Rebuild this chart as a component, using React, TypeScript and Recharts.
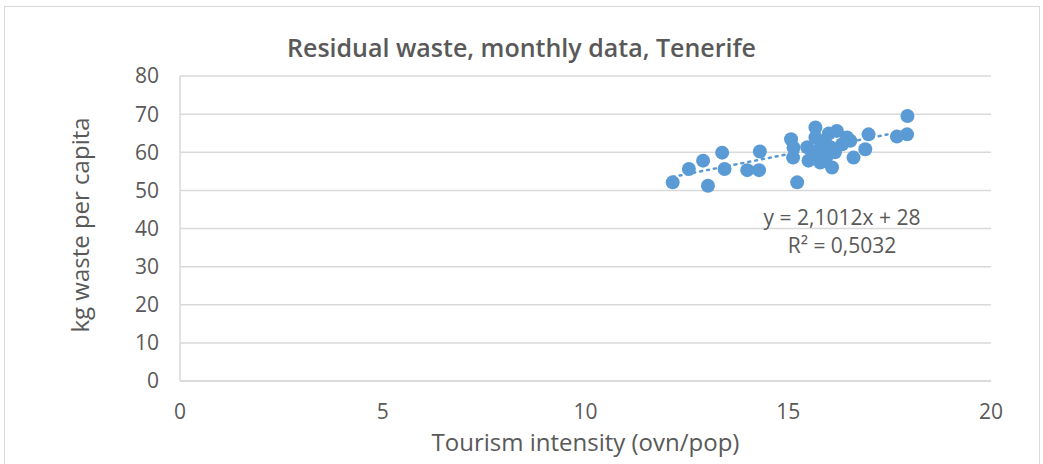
import React from 'react';
import {
  ScatterChart,
  Scatter,
  XAxis,
  YAxis,
  CartesianGrid,
  ReferenceLine,
} from 'recharts';

const tourismIntensity = [
  12.15, 12.55, 12.9, 13.02, 13.37, 13.43, 13.99, 14.28, 14.3, 15.22,
  15.07, 15.12, 15.13, 15.67, 15.67, 15.71, 15.79, 15.96, 16.08, 16.2,
  16.45, 16.33, 16.04, 15.87, 15.47, 15.5, 16.61, 16.9, 16.98, 17.68,
  17.93, 17.94, 16.53, 16.0, 15.85, 15.6, 16.15, 15.9,
];
const wastePerCapita = [
  52.1, 55.6, 57.8, 51.2, 59.9, 55.6, 55.3, 55.3, 60.2, 52.1,
  63.4, 58.6, 61.2, 66.5, 63.9, 60.4, 57.3, 59.1, 56.0, 65.6,
  63.9, 62.1, 61.3, 61.7, 61.3, 57.8, 58.6, 60.8, 64.7, 64.1,
  64.7, 69.5, 63.0, 64.9, 58.5, 59.5, 60.0, 63.0,
];

// Linear trendline end points (y = 2,1012x + 28)
const trendX = [12.15, 17.94];
const trendY = [53.53, 65.7];

const xTicks = [0, 5, 10, 15, 20];
const yTicks = [0, 10, 20, 30, 40, 50, 60, 70, 80];

const BLUE = '#5B9BD5';
const GREY_TEXT = '#595959';
const GRID = '#d9d9d9';
const FONT = '"Open Sans", sans-serif';

const points = tourismIntensity.map((x, i) => ({ x, y: wastePerCapita[i] }));

const Dot = (props: any) => {
  const { cx, cy } = props;
  if (cx == null || cy == null) return null;
  return <circle cx={cx} cy={cy} r={7} fill={BLUE} />;
};

const App: React.FC = () => {
  return (
    <div style={{ position: 'fixed', left: 0, top: 0, width: 1043, height: 464, background: '#fff', fontFamily: FONT }}>
      <div style={{ position: 'absolute', left: 4, top: 6, width: 1034, height: 470, border: `1px solid ${GRID}` }} />
      <ScatterChart
        width={1043}
        height={464}
        margin={{ top: 76, right: 52, left: 120, bottom: 53 }}
        style={{ position: 'absolute', left: 0, top: 0 }}
      >
        <CartesianGrid horizontal vertical={false} stroke={GRID} strokeWidth={1.5} />
        <XAxis
          type="number"
          dataKey="x"
          domain={[0, 20]}
          ticks={xTicks}
          tickLine={false}
          axisLine={{ stroke: GRID, strokeWidth: 1.5 }}
          tick={{ fill: GREY_TEXT, fontSize: 21, fontFamily: FONT }}
          tickMargin={17}
          height={30}
        />
        <YAxis
          type="number"
          dataKey="y"
          domain={[0, 80]}
          ticks={yTicks}
          tickLine={false}
          axisLine={{ stroke: GRID, strokeWidth: 1.5 }}
          tick={{ fill: GREY_TEXT, fontSize: 21, fontFamily: FONT }}
          tickMargin={15}
          width={60}
        />
        <ReferenceLine
          segment={[
            { x: trendX[0], y: trendY[0] },
            { x: trendX[1], y: trendY[1] },
          ]}
          stroke={BLUE}
          strokeWidth={2.5}
          strokeDasharray="2 5"
          strokeLinecap="round"
        />
        <Scatter data={points} shape={<Dot />} isAnimationActive={false} />
      </ScatterChart>
      <div style={{ position: 'absolute', left: 0, width: 1043, top: 47, transform: 'translateY(-50%)', textAlign: 'center', fontSize: 25, fontWeight: 600, color: GREY_TEXT, lineHeight: '32px' }}>
        Residual waste, monthly data, Tenerife
      </div>
      <div style={{ position: 'absolute', left: 180, width: 811, top: 442, transform: 'translateY(-50%)', textAlign: 'center', fontSize: 24, color: GREY_TEXT, lineHeight: '30px' }}>
        Tourism intensity (ovn/pop)
      </div>
      <div
        style={{
          position: 'absolute', left: 80, top: 225, fontSize: 24, color: GREY_TEXT, whiteSpace: 'nowrap', lineHeight: '30px',
          transform: 'translate(-50%, -50%) rotate(-90deg)',
        }}
      >
        kg waste per capita
      </div>
      <div style={{ position: 'absolute', left: 742, width: 200, top: 231, transform: 'translateY(-50%)', textAlign: 'center', fontSize: 21, color: GREY_TEXT, lineHeight: '28px' }}>
        y = 2,1012x + 28<br />R² = 0,5032
      </div>
    </div>
  );
};

export default App;
